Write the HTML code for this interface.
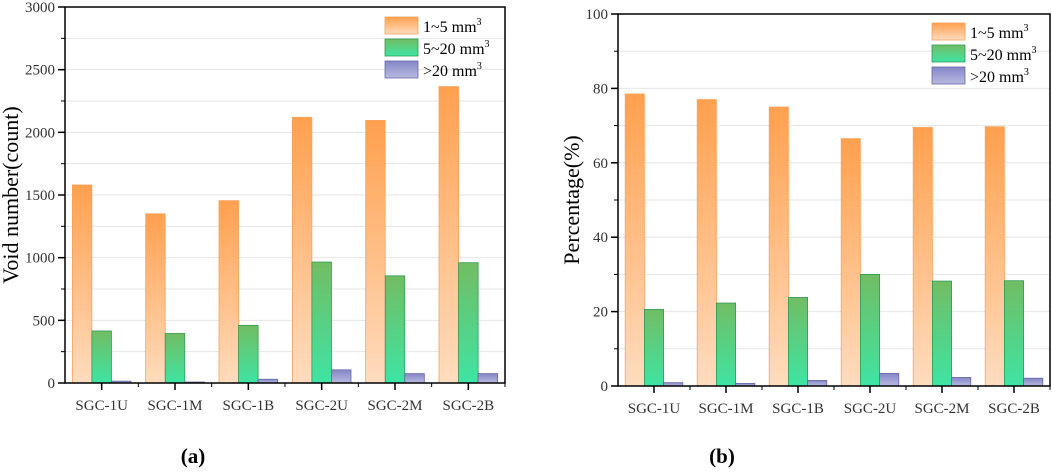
<!DOCTYPE html>
<html><head><meta charset="utf-8">
<style>
body{margin:0;background:#fff;width:1052px;height:474px;overflow:hidden}
svg{display:block;font-family:"Liberation Serif",serif}
</style></head>
<body>
<svg id="svg" width="1052" height="474" viewBox="0 0 1052 474">
<defs>
<linearGradient id="gO" x1="0" y1="0" x2="0" y2="1"><stop offset="0" stop-color="#ffa04e"/><stop offset="1" stop-color="#ffdcbe"/></linearGradient>
<linearGradient id="gG" x1="0" y1="0" x2="0" y2="1"><stop offset="0" stop-color="#72bd62"/><stop offset="1" stop-color="#3ee4a4"/></linearGradient>
<linearGradient id="gP" x1="0" y1="0" x2="0" y2="1"><stop offset="0" stop-color="#8486c8"/><stop offset="1" stop-color="#b8badf"/></linearGradient>
</defs>
<text x="193" y="463" font-size="21" font-weight="bold" text-anchor="middle">(a)</text>
<text x="722" y="463" font-size="21" font-weight="bold" text-anchor="middle">(b)</text>
</svg>
<script>
const categories=["SGC-1U","SGC-1M","SGC-1B","SGC-2U","SGC-2M","SGC-2B"];
const seriesNames=["1~5 mm","5~20 mm",">20 mm"];
const countSmall=[1580,1350,1455,2120,2095,2365];
const countMid=[415,395,460,965,855,960];
const countLarge=[15,8,30,105,75,75];
const pctSmall=[78.5,77,75,66.5,69.5,69.7];
const pctMid=[20.6,22.3,23.8,30,28.2,28.3];
const pctLarge=[0.9,0.7,1.5,3.4,2.3,2.1];
const countTicks=[0,500,1000,1500,2000,2500,3000];
const pctTicks=[0,20,40,60,80,100];

const NS="http://www.w3.org/2000/svg";
const svg=document.getElementById('svg');
function mk(tag,attrs,parent){const e=document.createElementNS(NS,tag);for(const k in attrs)e.setAttribute(k,attrs[k]);(parent||svg).appendChild(e);return e;}

function chart(cfg){
  const g=mk('g',{});
  
  
  const {x0,x1,y0,y1,max,ticks,series}=cfg;
  const ys=v=>y0-(v/max)*(y0-y1);
  const gw=(x1-x0)/categories.length;
  const xc=i=>x0+gw*(i+0.5);
  const step=ticks[1]-ticks[0];
  for(let v=step/2;v<max;v+=step/2){
    const l=mk('line',{x1:x0,x2:x1,y1:ys(v),y2:ys(v),stroke:'#e6e6e6','stroke-width':1},g);
    
    
    mk('line',{x1:x0-4,x2:x0,y1:ys(v),y2:ys(v),stroke:'#000','stroke-width':1},g);
  }
  const bw=gw*0.8/3;
  const fills=['url(#gO)','url(#gG)','url(#gP)'];
  const strokes=['#f7a25c','#2e9a58','#6668a8'];
  series.forEach((arr,s)=>{
    arr.forEach((v,i)=>{
      const x=xc(i)-1.5*bw+s*bw;
      const r=mk('rect',{x:x,y:ys(v),width:bw,height:y0-ys(v),fill:fills[s],stroke:strokes[s],'stroke-width':0.8},g);
      
      
    });
  });
  const fr=mk('rect',{x:x0,y:y1,width:x1-x0,height:y0-y1,fill:'none',stroke:'#000','stroke-width':1.5},g);
  
  
  ticks.forEach(v=>{
    mk('line',{x1:x0-7,x2:x0,y1:ys(v),y2:ys(v),stroke:'#000','stroke-width':1.5},g);
    const t=mk('text',{x:x0-10,y:ys(v)+5,'font-size':15,'text-anchor':'end',fill:'#333'},g);
    t.textContent=v;
    
    
  });
  categories.forEach((c,i)=>{
    mk('line',{x1:xc(i),x2:xc(i),y1:y0,y2:y0+7,stroke:'#000','stroke-width':1.5},g);
    mk('line',{x1:x0+gw*(i+1),x2:x0+gw*(i+1),y1:y0,y2:y0+4,stroke:'#000','stroke-width':1},g);
    const t=mk('text',{x:xc(i),y:y0+27,'font-size':15,'text-anchor':'middle',fill:'#333'},g);
    t.textContent=c;
    
    
  });
  const yt=mk('text',{x:0,y:0,'font-size':22,'text-anchor':'middle',transform:`translate(${cfg.titleX},${(y0+y1)/2}) rotate(-90)`},g);
  yt.textContent=cfg.title;
  
  
  seriesNames.forEach((n,s)=>{
    const ly=cfg.legY+s*22;
    const b=mk('rect',{x:cfg.legX,y:ly,width:33,height:17,fill:fills[s],stroke:strokes[s],'stroke-width':0.8},g);
    
    
    const t=mk('text',{x:cfg.legX+38,y:ly+15,'font-size':16},g);
    t.textContent=n;
    const sup=mk('tspan',{dy:-7,'font-size':10},t);
    sup.textContent='3';
    
    
  });
}
chart({name:'chart-a-void-number',x0:65,x1:505,y0:383,y1:7,max:3000,ticks:countTicks,series:[countSmall,countMid,countLarge],title:'Void number(count)',titleX:18,legX:385,legY:17});
chart({name:'chart-b-percentage',x0:618,x1:1050,y0:386,y1:14,max:100,ticks:pctTicks,series:[pctSmall,pctMid,pctLarge],title:'Percentage(%)',titleX:579,legX:932,legY:23});
</script>
</body></html>
